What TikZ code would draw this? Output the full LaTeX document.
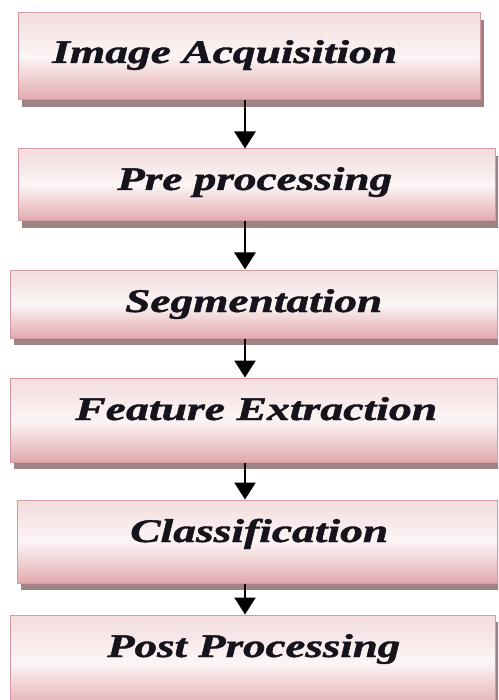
\documentclass[tikz,border=0pt]{standalone}
\usepackage{fontspec}
\usepackage{graphicx}
\setmainfont{Liberation Serif}[BoldItalicFeatures={FakeBold=1.2}]
\usetikzlibrary{arrows.meta,shadows}
\definecolor{boxtop}{HTML}{F3DCDD}
\definecolor{boxmid}{HTML}{FCF5F5}
\definecolor{boxbot}{HTML}{E2A9AD}
\definecolor{boxline}{HTML}{D49CA1}
\definecolor{shadowc}{HTML}{9E8284}
\definecolor{txtc}{HTML}{15131C}
\newcommand{\fitlbl}[2]{\setbox0\hbox{#2}\pgfmathsetmacro\lblsx{#1/\the\wd0}\scalebox{\lblsx}[1]{\box0}}
\tikzset{
  stagebox/.style={draw=boxline, line width=1pt, rectangle, inner sep=0pt,
    top color=boxtop, bottom color=boxbot, middle color=boxmid,
    drop shadow={shadow xshift=4pt, shadow yshift=-7pt, fill=shadowc, opacity=1}},
  stagetext/.style={anchor=base west, inner sep=0pt, text=txtc,
    font=\fontsize{33}{38}\selectfont\bfseries\itshape},
  flowarrow/.style={line width=2.5pt, -{Triangle[width=21pt,length=17pt]}}
}
\begin{document}
\begin{tikzpicture}[x=1pt,y=-1pt]
\useasboundingbox (0,0) rectangle (498,700);
\clip (0,0) rectangle (498,700);
\node[stagebox, minimum width=462pt, minimum height=87pt] (b1) at (249,56.5) {};
\node[stagebox, minimum width=477pt, minimum height=72pt] (b2) at (256.5,185) {};
\node[stagebox, minimum width=487pt, minimum height=68pt] (b3) at (253.5,304) {};
\node[stagebox, minimum width=487pt, minimum height=84pt] (b4) at (253.5,420) {};
\node[stagebox, minimum width=480pt, minimum height=83pt] (b5) at (257,541.5) {};
\node[stagebox, minimum width=485pt, minimum height=95pt] (b6) at (252.5,662.5) {};
\node[stagetext] (t1) at (52,63) {\fitlbl{345pt}{Image Acquisition}};
\node[stagetext] (t2) at (117,190) {\fitlbl{275pt}{Pre processing}};
\node[stagetext] (t3) at (125,312) {\fitlbl{257pt}{Segmentation}};
\node[stagetext] (t4) at (75,420) {\fitlbl{362pt}{Feature Extraction}};
\node[stagetext] (t5) at (130,542) {\fitlbl{258pt}{Classification}};
\node[stagetext] (t6) at (107,657) {\fitlbl{293pt}{Post Processing}};
\coordinate (ax) at (245,0);
\draw[flowarrow] (b1.south -| ax) -- (b2.north -| ax);
\draw[flowarrow] (b2.south -| ax) -- (b3.north -| ax);
\draw[flowarrow] (b3.south -| ax) -- (b4.north -| ax);
\draw[flowarrow] (b4.south -| ax) -- (b5.north -| ax);
\draw[flowarrow] (b5.south -| ax) -- (b6.north -| ax);
\end{tikzpicture}
\end{document}
